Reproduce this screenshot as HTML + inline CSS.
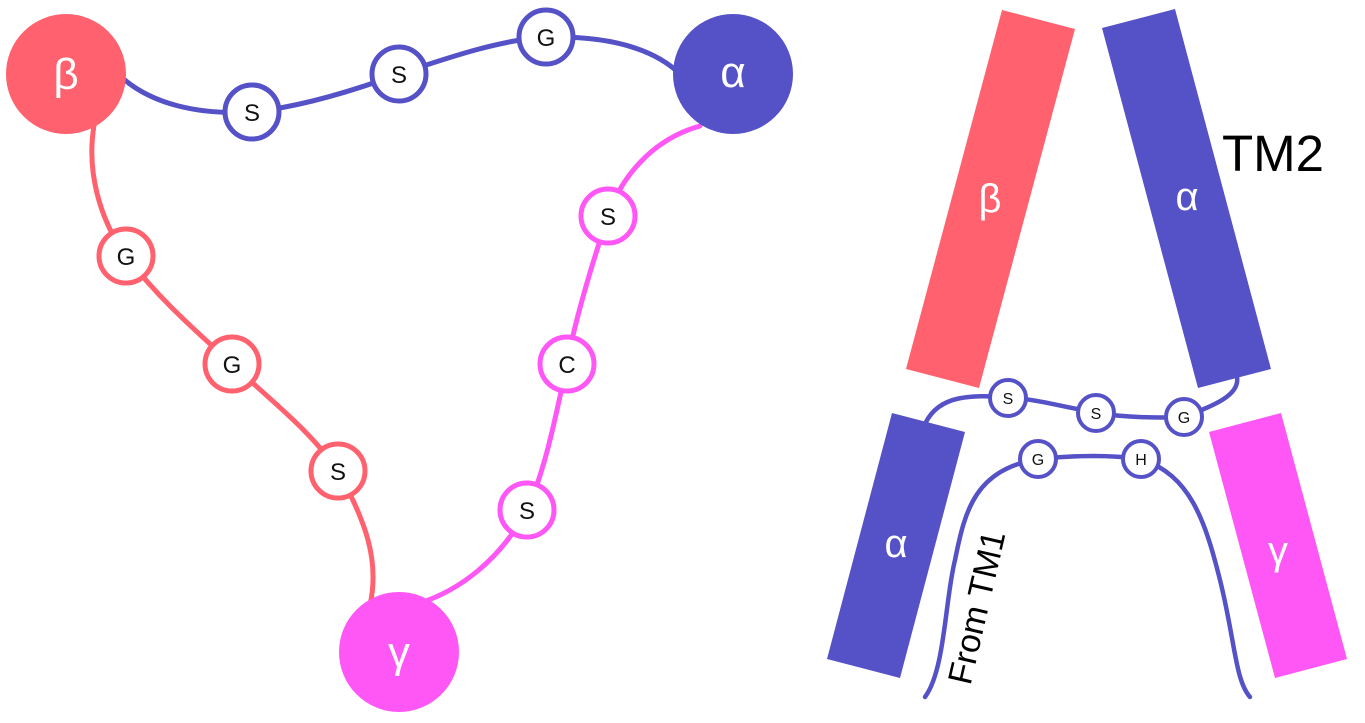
<!DOCTYPE html>
<html><head><meta charset="utf-8"><style>
html,body{margin:0;padding:0;background:#fff;}
svg{display:block;}
text{font-family:"Liberation Sans","DejaVu Sans",sans-serif;}
</style></head><body>
<svg width="1365" height="723" viewBox="0 0 1365 723" xmlns="http://www.w3.org/2000/svg">
<g fill="none" stroke-width="5" stroke-linecap="round">
  <path d="M118,74 C150,105 200,115 252,112 C300,107 350,92 399,74 C450,57 500,40 546,37 C600,36 650,45 680,74" stroke="#5551C7"/>
  <path d="M700,126 C650,140 620,180 608,216 C590,270 575,320 567,364 C555,420 545,470 527,510 C500,560 460,590 420,603" stroke="#FF57F5"/>
  <path d="M95,120 C85,170 100,220 126,256 C160,300 195,330 232,364 C270,400 310,430 338,471 C365,520 380,560 370,605" stroke="#FF626E"/>
</g>
<circle cx="66" cy="74" r="60" fill="#FF626E"/>
<circle cx="733" cy="74" r="60" fill="#5551C7"/>
<circle cx="399" cy="652" r="60" fill="#FF57F5"/>
<g font-size="44" fill="#fff" text-anchor="middle">
  <text x="66" y="89">β</text>
  <text x="733" y="87">α</text>
  <text x="399" y="667">γ</text>
</g>
<g stroke-width="5" fill="#fff">
  <circle cx="252" cy="112" r="27" stroke="#5551C7"/>
  <circle cx="399" cy="74" r="27" stroke="#5551C7"/>
  <circle cx="546" cy="37" r="27" stroke="#5551C7"/>
  <circle cx="126" cy="256" r="27" stroke="#FF626E"/>
  <circle cx="232" cy="364" r="27" stroke="#FF626E"/>
  <circle cx="338" cy="471" r="27" stroke="#FF626E"/>
  <circle cx="608" cy="216" r="27" stroke="#FF57F5"/>
  <circle cx="567" cy="364" r="27" stroke="#FF57F5"/>
  <circle cx="527" cy="510" r="27" stroke="#FF57F5"/>
</g>
<g font-size="24" fill="#111" text-anchor="middle">
  <text x="252" y="121">S</text><text x="399" y="83">S</text><text x="546" y="46">G</text>
  <text x="126" y="265">G</text><text x="232" y="373">G</text><text x="338" y="480">S</text>
  <text x="608" y="225">S</text><text x="567" y="373">C</text><text x="527" y="519">S</text>
</g>

<polygon points="1002,10 1075,29 979,388 906,369" fill="#FF626E"/>
<polygon points="1102,28 1175,9 1271,369 1198,388" fill="#5551C7"/>
<polygon points="892,413 965,432 900,678 827,659" fill="#5551C7"/>
<polygon points="1209,432 1281,413 1347,659 1275,678" fill="#FF57F5"/>
<g font-size="40" fill="#fff" text-anchor="middle">
  <text x="990" y="212">β</text>
  <text x="1187" y="210">α</text>
  <text x="896" y="557">α</text>
  <text x="1278" y="564">γ</text>
</g>
<text x="1222" y="171" font-size="51" fill="#000">TM2</text>

<g fill="none" stroke="#5551C7" stroke-width="4.5" stroke-linecap="round">
  <path d="M926,422 C940,395 970,395 1008,397 C1040,400 1070,408 1096,413 C1130,418 1160,418 1184,417 C1215,405 1240,395 1237,377"/>
  <path d="M925,697 C945,670 945,600 955,560 C965,510 975,470 1038,459 C1080,455 1110,455 1141,459 C1190,475 1205,520 1220,580 C1235,640 1235,680 1250,697"/>
</g>
<g fill="#fff" stroke="#5551C7" stroke-width="4">
  <circle cx="1008" cy="398" r="18"/><circle cx="1096" cy="413" r="18"/><circle cx="1184" cy="417" r="18"/>
  <circle cx="1038" cy="459" r="18"/><circle cx="1141" cy="459" r="18"/>
</g>
<g font-size="16" fill="#111" text-anchor="middle">
  <text x="1008" y="404">S</text><text x="1096" y="419">S</text><text x="1184" y="423">G</text>
  <text x="1038" y="465">G</text><text x="1141" y="465">H</text>
</g>
<text x="0" y="0" font-size="34" fill="#000" text-anchor="middle" transform="translate(988,610) rotate(-77)">From TM1</text>
</svg>
</body></html>
